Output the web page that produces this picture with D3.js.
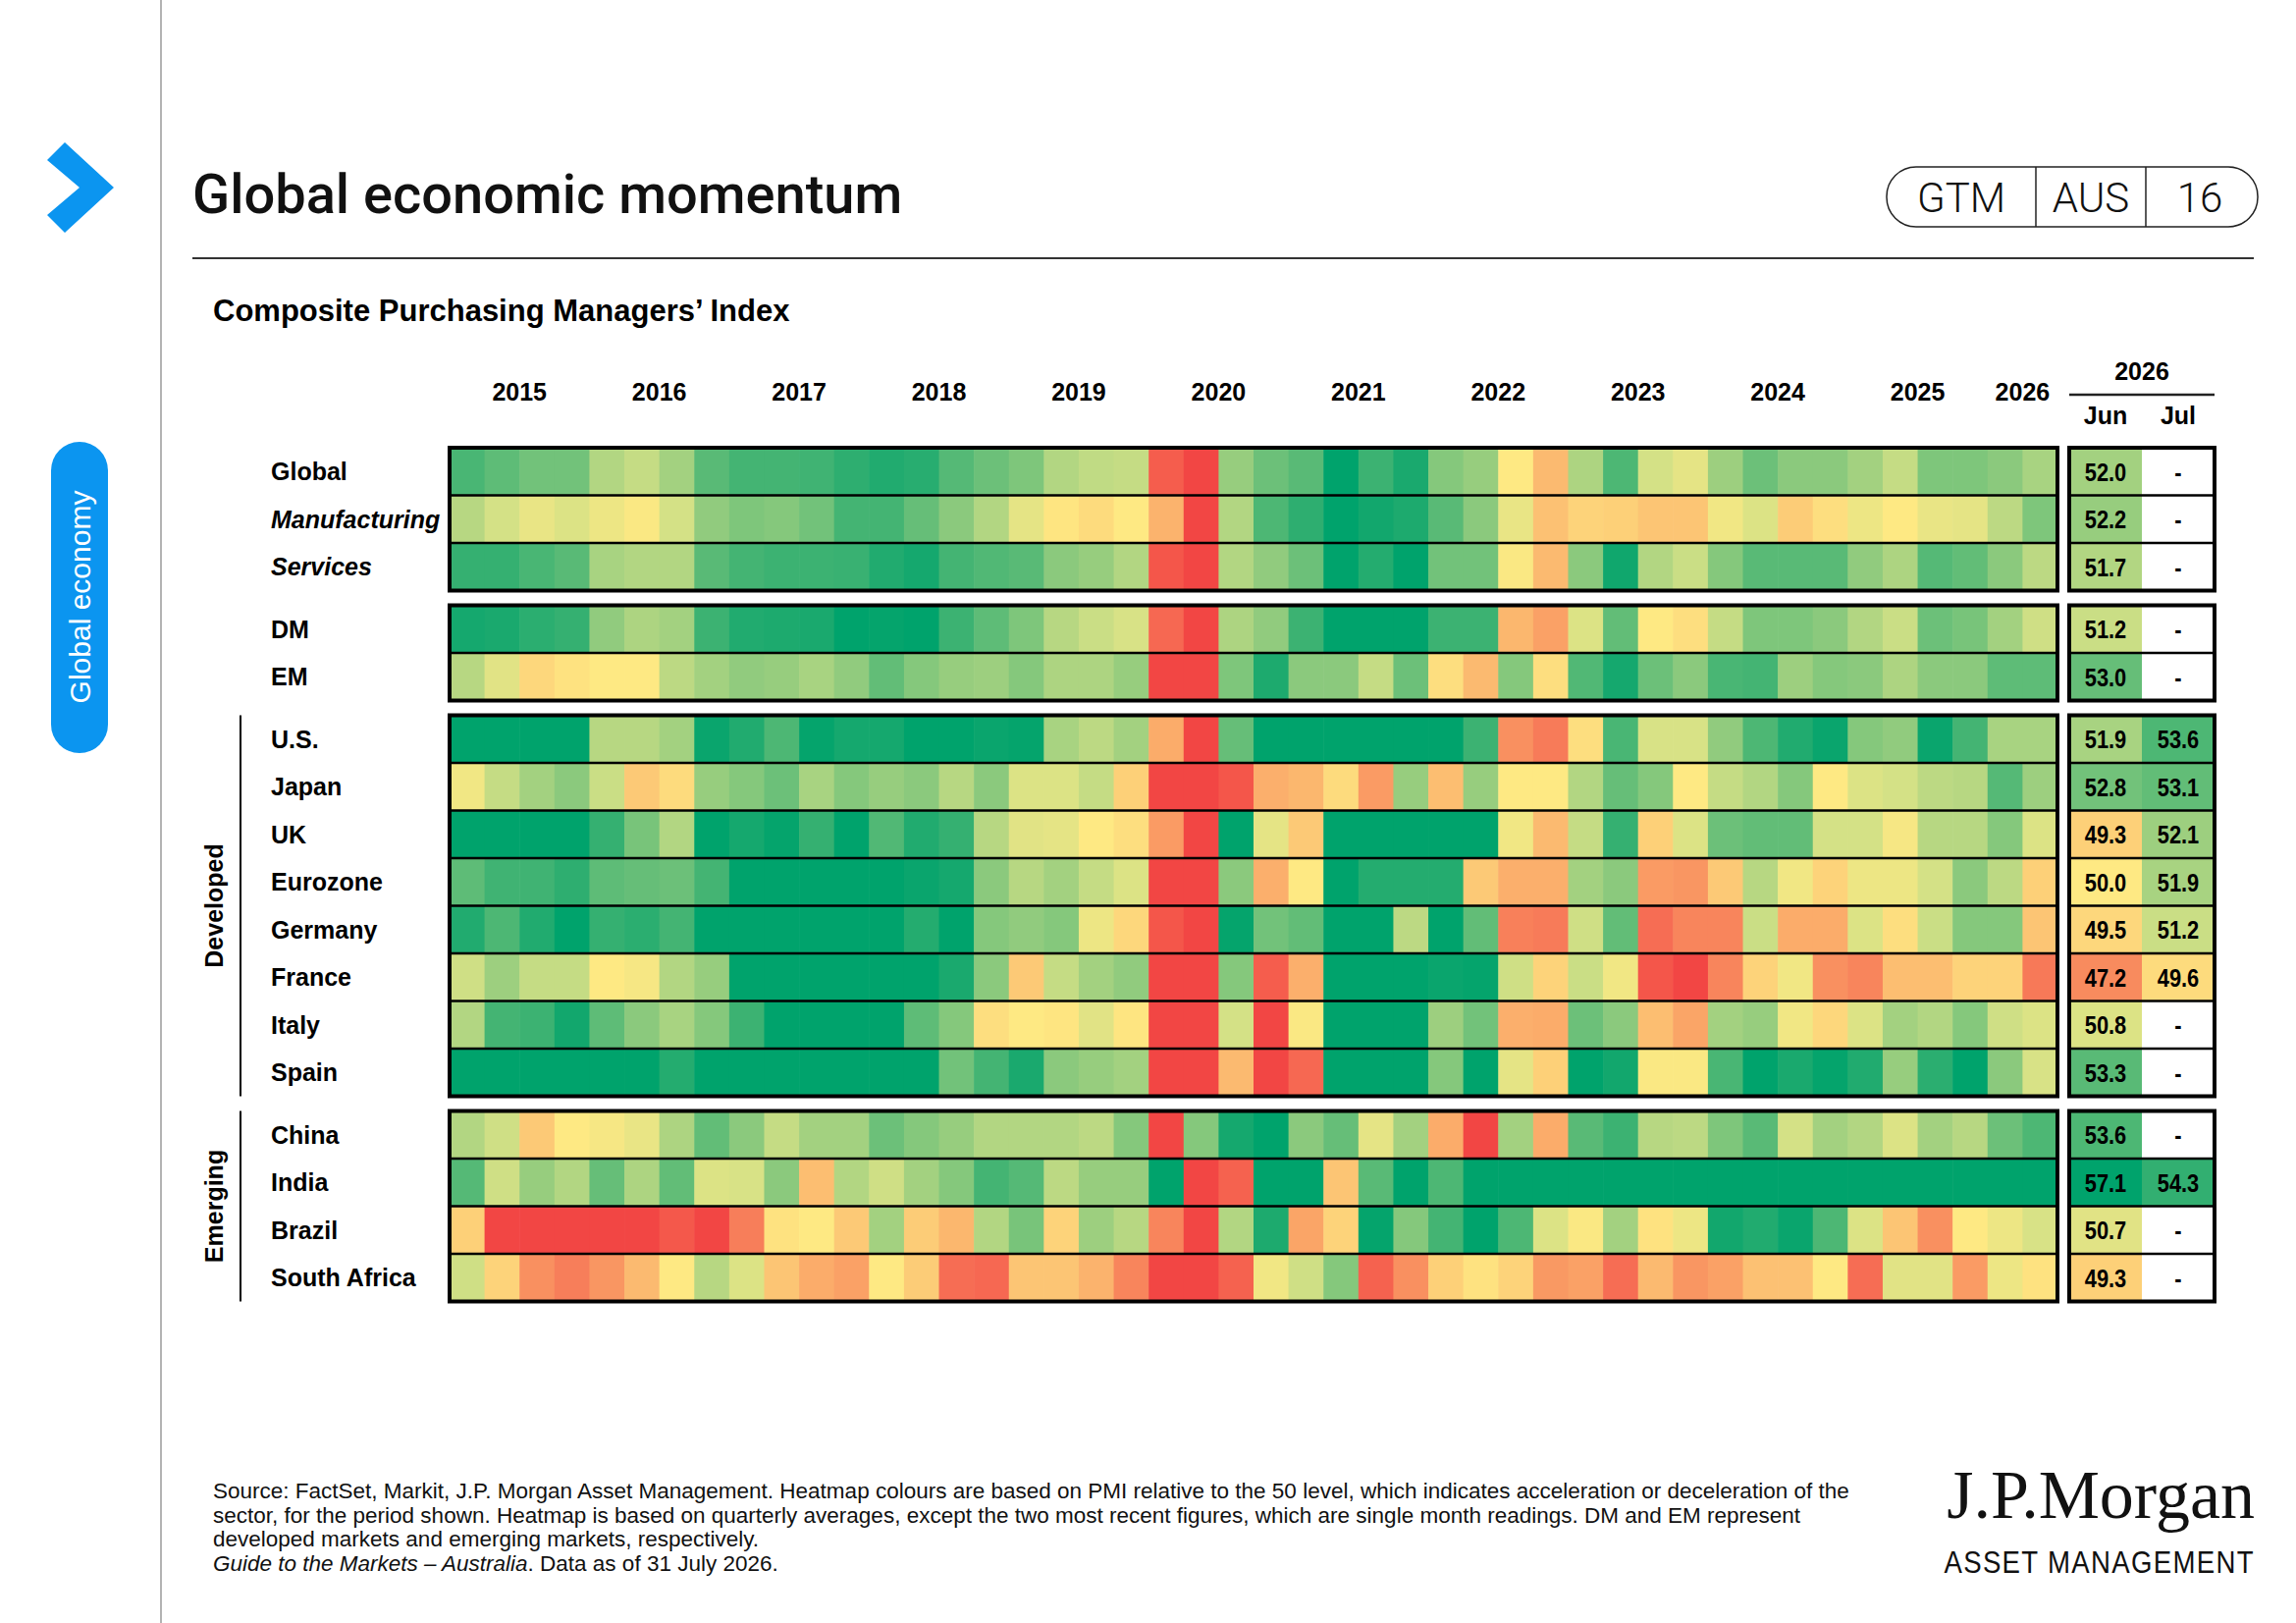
<!DOCTYPE html>
<html>
<head>
<meta charset="utf-8">
<script src="https://cdn.jsdelivr.net/npm/d3@7"></script>
<style>
  body { margin: 0; background: #fff; }
  svg { display: block; }
</style>
</head>
<body>
<svg id="chart"></svg>
<script>
// ---- data ----
const yearLabels = ["2015","2016","2017","2018","2019","2020","2021","2022","2023","2024","2025","2026"];
const quarterCount = 46; // 2015 Q1 .. 2026 Q2

const rowNames = ["Global","Manufacturing","Services","DM","EM","U.S.","Japan","UK","Eurozone",
  "Germany","France","Italy","Spain","China","India","Brazil","South Africa"];
const italicRows = ["Manufacturing","Services"];
const rowGroups = [0,0,0,1,1,2,2,2,2,2,2,2,2,3,3,3,3];
const sideLabels = [{group: 2, text: "Developed"}, {group: 3, text: "Emerging"}];

const pmiGlobal = [53.7,53.2,52.8,52.8,51.7,51.3,52.0,53.3,53.8,53.8,53.9,54.4,54.8,54.6,53.4,52.9,
  52.6,51.7,51.4,51.3,45.3,44.2,52.2,52.9,53.3,56.0,54.0,55.0,52.5,52.2,50.0,48.7,
  51.8,53.6,51.0,50.6,52.1,52.9,52.4,52.4,52.0,51.3,52.6,52.6,52.4,51.9];
const pmiManufacturing = [51.6,51.0,50.5,50.8,50.4,50.1,51.0,52.3,52.6,52.5,52.8,53.8,53.8,53.0,52.4,51.7,
  50.6,49.9,49.6,50.0,48.5,44.2,51.7,53.6,54.4,56.0,55.3,54.9,53.3,52.4,50.5,48.9,
  49.4,49.3,49.0,49.0,50.3,50.8,49.2,49.7,50.4,50.0,50.5,50.6,51.5,52.6];
const pmiServices = [54.2,54.2,53.7,53.3,51.9,51.7,51.7,53.3,53.8,54.0,54.0,54.1,54.8,55.2,53.8,53.5,
  53.3,52.4,52.2,51.7,45.0,44.2,51.7,52.3,52.9,56.0,54.7,56.0,52.8,52.8,50.1,48.7,
  52.4,55.4,51.7,51.2,52.5,53.3,53.3,53.3,52.3,51.8,53.4,53.1,52.4,51.5];
const pmiDM = [55.2,55.0,54.5,54.2,52.3,51.8,52.0,54.0,54.8,54.9,55.0,56.0,55.8,56.0,54.0,53.2,
  52.6,51.6,51.2,50.9,45.8,44.2,51.8,52.3,54.0,56.0,56.0,56.0,54.0,54.0,48.6,48.0,
  50.8,53.1,50.0,49.7,51.3,52.6,52.6,52.4,51.7,51.2,52.9,52.7,52.0,51.1];
const pmiEM = [51.6,50.7,49.5,49.8,50.0,50.0,51.5,52.0,52.3,52.2,51.9,52.3,53.1,52.5,52.2,52.1,
  52.5,51.8,51.8,52.2,44.2,44.2,52.6,54.9,52.4,52.4,51.3,52.9,49.7,48.7,52.5,49.7,
  53.5,55.2,52.9,52.4,53.7,53.8,52.1,52.5,52.4,51.8,52.4,52.4,53.2,53.2];
const pmiUS = [56.0,56.0,56.0,56.0,51.6,51.6,52.0,55.6,54.8,53.6,55.8,55.2,55.2,56.0,56.0,55.6,
  55.8,51.9,51.5,52.0,48.3,44.2,53.0,56.0,56.0,56.0,56.0,56.0,56.0,54.0,47.4,46.6,
  49.7,53.7,50.9,50.9,52.3,53.6,54.8,55.6,52.5,52.3,55.6,53.8,51.9,51.9];
const pmiJapan = [50.3,51.3,52.0,52.4,51.2,49.1,49.6,52.2,52.5,52.9,51.9,52.5,52.2,52.4,51.6,52.4,
  50.8,50.8,51.3,49.3,44.2,44.2,45.0,48.4,48.6,49.6,47.8,52.2,48.8,52.2,50.0,50.0,
  51.7,53.0,52.5,50.0,51.3,51.7,52.5,50.0,50.8,51.0,51.5,51.6,53.4,52.1];
const pmiUK = [56.0,56.0,56.0,56.0,54.2,52.7,51.7,56.0,55.2,55.8,54.2,56.0,53.5,54.8,54.2,51.6,
  50.7,50.6,50.0,49.7,47.8,44.2,56.0,50.6,49.1,56.0,56.0,56.0,56.0,56.0,50.3,48.7,
  51.3,54.2,49.3,50.8,52.9,53.1,53.1,51.0,51.0,50.2,51.6,51.6,52.5,50.8];
const pmiEurozone = [53.2,53.9,53.9,54.4,53.2,53.0,52.9,53.8,56.0,56.0,56.0,56.0,56.0,55.6,55.2,52.4,
  51.6,52.0,51.3,50.8,44.2,44.2,52.4,48.4,50.0,56.0,54.7,54.7,54.7,49.1,48.4,48.4,
  52.0,52.4,47.8,47.6,49.1,51.6,50.3,49.4,50.4,50.4,51.0,52.4,51.5,49.3];
const pmiGermany = [54.8,53.6,54.8,56.0,54.2,54.5,53.8,56.0,56.0,56.0,56.0,56.0,56.0,54.7,56.0,52.5,
  52.3,52.5,50.4,49.5,45.0,44.2,55.8,52.8,53.1,56.0,56.0,51.5,56.0,53.1,46.8,46.6,
  51.1,53.1,46.0,47.0,47.0,51.2,48.3,48.3,50.8,49.7,51.2,52.5,52.5,49.0];
const pmiFrance = [51.1,52.1,51.3,51.3,50.0,50.2,51.7,52.2,56.0,56.0,56.0,56.0,56.0,56.0,55.0,52.4,
  49.1,51.3,52.0,52.3,44.2,44.2,52.5,45.3,48.4,56.0,56.0,56.0,55.6,55.8,51.1,49.4,
  51.2,50.3,45.0,44.2,47.0,49.4,50.3,47.4,47.0,48.8,48.8,49.4,49.4,46.5];
const pmiItaly = [51.7,53.8,54.0,55.3,53.2,52.4,51.9,52.5,54.0,56.0,56.0,56.0,56.0,53.2,52.5,49.7,
  50.0,49.9,50.7,49.9,44.2,44.2,51.0,44.2,50.1,56.0,56.0,56.0,52.1,52.8,48.4,48.3,
  52.9,52.4,48.8,48.1,52.0,52.2,50.3,49.5,50.8,52.0,51.7,52.5,51.1,50.8];
const pmiSpain = [56.0,56.0,56.0,56.0,56.0,56.0,54.7,56.0,56.0,56.0,56.0,56.0,56.0,56.0,52.8,53.8,
  55.0,52.4,52.2,52.0,44.2,44.2,48.7,44.2,45.8,56.0,56.0,56.0,52.5,56.0,50.6,49.3,
  56.0,55.3,50.1,50.1,53.7,56.0,55.0,55.8,54.8,52.2,54.5,56.0,52.4,50.9];
const pmiChina = [51.7,51.1,49.1,50.0,50.2,50.5,51.8,53.1,52.4,51.3,52.0,52.0,52.9,52.5,52.2,51.7,
  51.7,51.7,51.5,52.5,44.2,52.5,55.2,56.0,52.4,53.0,50.6,52.0,48.3,44.2,52.0,48.3,
  53.3,54.0,51.6,51.5,52.6,53.3,51.0,52.0,51.7,50.8,52.0,51.6,52.9,53.6];
const pmiIndia = [53.4,51.1,52.2,51.7,53.0,51.8,53.1,50.8,50.9,52.4,48.8,51.7,51.1,52.0,52.5,53.8,
  53.4,51.5,52.2,52.2,56.0,44.2,45.5,56.0,56.0,49.0,53.3,56.0,53.6,56.0,56.0,56.0,
  56.0,56.0,56.0,56.0,56.0,56.0,56.0,56.0,56.0,56.0,56.0,56.0,56.0,56.0];
const pmiBrazil = [49.3,44.2,44.2,44.2,44.2,44.2,45.1,44.2,46.7,49.8,50.0,49.1,52.0,49.2,48.6,51.7,
  52.7,49.4,52.1,51.6,47.0,44.2,51.7,54.9,48.1,49.4,55.8,52.5,53.8,56.0,53.6,50.8,
  50.1,52.0,49.8,50.4,55.3,54.8,55.6,53.6,50.8,49.0,47.4,50.0,50.4,50.9];
const pmiSouthAfrica = [51.1,49.4,47.4,46.7,47.6,48.7,50.0,51.6,50.8,49.0,48.3,48.0,50.0,49.2,46.0,45.8,
  49.0,49.0,48.5,47.0,44.2,44.2,45.5,50.3,51.1,52.5,45.5,47.4,49.3,49.8,49.4,47.7,
  48.0,46.0,48.7,47.6,48.0,48.9,48.9,50.0,46.0,50.7,50.7,47.8,50.4,49.8];

const seriesValues = [pmiGlobal, pmiManufacturing, pmiServices, pmiDM, pmiEM, pmiUS, pmiJapan, pmiUK,
  pmiEurozone, pmiGermany, pmiFrance, pmiItaly, pmiSpain, pmiChina, pmiIndia, pmiBrazil, pmiSouthAfrica];

const monthLabels = ["Jun","Jul"];
const monthYear = "2026";
const junValues = [52.0,52.2,51.7,51.2,53.0,51.9,52.8,49.3,50.0,49.5,47.2,50.8,53.3,53.6,57.1,50.7,49.3];
const julValues = [null,null,null,null,null,53.6,53.1,52.1,51.9,51.2,49.6,null,null,null,54.3,null,null];

const colorStops = [44, 45, 46, 47, 48, 49, 50, 51, 52, 53, 54, 55, 56];
const colorRange = ["#f24242","#f4564a","#f66d54","#f8855c","#faa166","#fcc574","#fee983",
  "#d4e186","#a3d180","#66be78","#3cb272","#1aa96e","#00a36c"];

// ---- layout ----
const W = 2339, H = 1653;
const sans = "'Liberation Sans', Arial, sans-serif";

const svg = d3.select("#chart").attr("width", W).attr("height", H);
svg.append("rect").attr("width", W).attr("height", H).attr("fill", "#fff");

const cellLeft = 458, cellRight = 2096;
const gridTop = 456, rowH = 48.5, groupGap = 15;
const panelLeft = 2108, panelRight = 2256;

const x = d3.scaleBand().domain(d3.range(quarterCount)).range([cellLeft, cellRight]);
const yBand = d3.scaleBand().domain(d3.range(rowNames.length))
  .range([gridTop, gridTop + rowH * rowNames.length]);
const rowY = i => yBand(i) + rowGroups[i] * groupGap;
const xm = d3.scaleBand().domain(monthLabels).range([panelLeft, panelRight]);
const color = d3.scaleLinear().domain(colorStops).range(colorRange).clamp(true);

// left rail
svg.append("line").attr("x1", 164).attr("x2", 164).attr("y1", 0).attr("y2", H)
  .attr("stroke", "#9a9a9a").attr("stroke-width", 1.5);
svg.append("path")
  .attr("d", "M48,163 L66,145 L116,191 L66,237 L48,219 L81,191 Z")
  .attr("fill", "#0b95f0");
svg.append("rect").attr("x", 52).attr("y", 450).attr("width", 58).attr("height", 317)
  .attr("rx", 29).attr("fill", "#0b95f0");
svg.append("text")
  .attr("transform", "translate(81,608) rotate(-90)")
  .attr("text-anchor", "middle").attr("dy", "0.35em")
  .attr("font-family", sans).attr("font-size", 30).attr("fill", "#fff")
  .text("Global economy");

// title block
svg.append("text").attr("x", 196).attr("y", 217)
  .attr("font-family", "Roboto, " + sans).attr("font-weight", 500).attr("font-size", 56)
  .attr("fill", "#111").text("Global economic momentum");

const badge = svg.append("g");
badge.append("rect").attr("x", 1922).attr("y", 170).attr("width", 378).attr("height", 61)
  .attr("rx", 30).attr("fill", "none").attr("stroke", "#222").attr("stroke-width", 1.5);
[2074, 2186].forEach(d => badge.append("line").attr("x1", d).attr("x2", d)
  .attr("y1", 170).attr("y2", 231).attr("stroke", "#222").attr("stroke-width", 1.5));
[["GTM", 1998], ["AUS", 2130], ["16", 2241]].forEach(([t, cx]) =>
  badge.append("text").attr("x", cx).attr("y", 201).attr("dy", "0.36em")
    .attr("text-anchor", "middle").attr("font-family", "Roboto, " + sans)
    .attr("font-weight", 300).attr("font-size", 42).attr("fill", "#111").text(t));

svg.append("line").attr("x1", 196).attr("x2", 2296).attr("y1", 263).attr("y2", 263)
  .attr("stroke", "#333").attr("stroke-width", 2);

svg.append("text").attr("x", 217).attr("y", 327)
  .attr("font-family", sans).attr("font-weight", "bold").attr("font-size", 31)
  .attr("fill", "#000").text("Composite Purchasing Managers\u2019 Index");

// year labels
const yearG = svg.append("g").attr("font-family", sans).attr("font-weight", "bold")
  .attr("font-size", 25).attr("text-anchor", "middle");
yearLabels.forEach((yr, k) => {
  const first = k * 4, last = Math.min(k * 4 + 3, quarterCount - 1);
  const cx = (x(first) + x(last) + x.bandwidth()) / 2;
  yearG.append("text").attr("x", cx).attr("y", 408).text(yr);
});

// month header
const mh = svg.append("g").attr("font-family", sans).attr("font-weight", "bold")
  .attr("font-size", 25).attr("text-anchor", "middle");
mh.append("text").attr("x", (panelLeft + panelRight) / 2).attr("y", 387).text(monthYear);
mh.append("line").attr("x1", panelLeft).attr("x2", panelRight).attr("y1", 402).attr("y2", 402)
  .attr("stroke", "#222").attr("stroke-width", 2.5);
monthLabels.forEach(m => mh.append("text")
  .attr("x", xm(m) + xm.bandwidth() / 2).attr("y", 432).text(m));

// heatmap cells
const cells = svg.append("g");
seriesValues.forEach((vals, r) => {
  cells.selectAll(null).data(vals).enter().append("rect")
    .attr("x", (d, c) => x(c))
    .attr("y", rowY(r))
    .attr("width", x.bandwidth() + 0.6)
    .attr("height", yBand.bandwidth())
    .attr("fill", d => color(d));
});

// side panel cells
const panel = svg.append("g");
rowNames.forEach((name, r) => {
  [junValues[r], julValues[r]].forEach((v, k) => {
    const m = monthLabels[k];
    const cx = xm(m) + xm.bandwidth() / 2, cy = rowY(r) + yBand.bandwidth() / 2;
    panel.append("rect").attr("x", xm(m)).attr("y", rowY(r))
      .attr("width", xm.bandwidth() + (k === 0 ? 0.6 : 0)).attr("height", yBand.bandwidth())
      .attr("fill", v == null ? "#fff" : color(v));
    panel.append("text")
      .attr("transform", `translate(${cx},${cy}) scale(0.84,1)`)
      .attr("dy", "0.36em").attr("text-anchor", "middle")
      .attr("font-family", sans).attr("font-weight", "bold").attr("font-size", 26)
      .attr("fill", "#000")
      .text(v == null ? "-" : v.toFixed(1));
  });
});

// group borders and row separators
const groups = d3.groups(d3.range(rowNames.length), r => rowGroups[r]);
const borders = svg.append("g").attr("fill", "none").attr("stroke", "#000");
groups.forEach(([g, rows]) => {
  const y0 = rowY(rows[0]), y1 = rowY(rows[rows.length - 1]) + yBand.bandwidth();
  rows.slice(1).forEach(r => {
    borders.append("line").attr("x1", cellLeft).attr("x2", cellRight)
      .attr("y1", rowY(r)).attr("y2", rowY(r)).attr("stroke-width", 2.5);
    borders.append("line").attr("x1", panelLeft).attr("x2", panelRight)
      .attr("y1", rowY(r)).attr("y2", rowY(r)).attr("stroke-width", 2.5);
  });
  borders.append("rect").attr("x", cellLeft).attr("y", y0)
    .attr("width", cellRight - cellLeft).attr("height", y1 - y0).attr("stroke-width", 4);
  borders.append("rect").attr("x", panelLeft).attr("y", y0)
    .attr("width", panelRight - panelLeft).attr("height", y1 - y0).attr("stroke-width", 4);
});

// row labels
svg.append("g").selectAll("text").data(rowNames).enter().append("text")
  .attr("x", 276).attr("y", (d, r) => rowY(r) + yBand.bandwidth() / 2).attr("dy", "0.36em")
  .attr("font-family", sans).attr("font-weight", "bold").attr("font-size", 25)
  .attr("font-style", d => italicRows.includes(d) ? "italic" : "normal")
  .attr("fill", "#000").text(d => d);

// Developed / Emerging brackets
sideLabels.forEach(s => {
  const rows = groups.find(g => g[0] === s.group)[1];
  const y0 = rowY(rows[0]), y1 = rowY(rows[rows.length - 1]) + yBand.bandwidth();
  svg.append("line").attr("x1", 245).attr("x2", 245).attr("y1", y0).attr("y2", y1)
    .attr("stroke", "#000").attr("stroke-width", 2);
  svg.append("text").attr("transform", `translate(218,${(y0 + y1) / 2}) rotate(-90)`)
    .attr("text-anchor", "middle").attr("dy", "0.36em")
    .attr("font-family", sans).attr("font-weight", "bold").attr("font-size", 25)
    .text(s.text);
});

// footnote
const foot = svg.append("text").attr("font-family", sans).attr("font-size", 22.5).attr("fill", "#111");
const footLines = [
  "Source: FactSet, Markit, J.P. Morgan Asset Management. Heatmap colours are based on PMI relative to the 50 level, which indicates acceleration or deceleration of the",
  "sector, for the period shown. Heatmap is based on quarterly averages, except the two most recent figures, which are single month readings. DM and EM represent",
  "developed markets and emerging markets, respectively."
];
footLines.forEach((t, i) => foot.append("tspan").attr("x", 217).attr("y", 1526 + i * 24.5).text(t));
const last = foot.append("tspan").attr("x", 217).attr("y", 1526 + 3 * 24.5);
last.append("tspan").attr("font-style", "italic").text("Guide to the Markets \u2013 Australia");
last.append("tspan").text(". Data as of 31 July 2026.");

// logo
svg.append("text").attr("x", 2297).attr("y", 1546).attr("text-anchor", "end")
  .attr("font-family", "'Liberation Serif', 'Times New Roman', serif").attr("font-size", 70)
  .attr("fill", "#111").text("J.P.Morgan");
svg.append("text").attr("transform", "translate(2297,1602) scale(0.89,1)").attr("text-anchor", "end")
  .attr("font-family", sans).attr("font-size", 31).attr("letter-spacing", 1.5)
  .attr("fill", "#111").text("ASSET MANAGEMENT");
</script>
</body>
</html>
